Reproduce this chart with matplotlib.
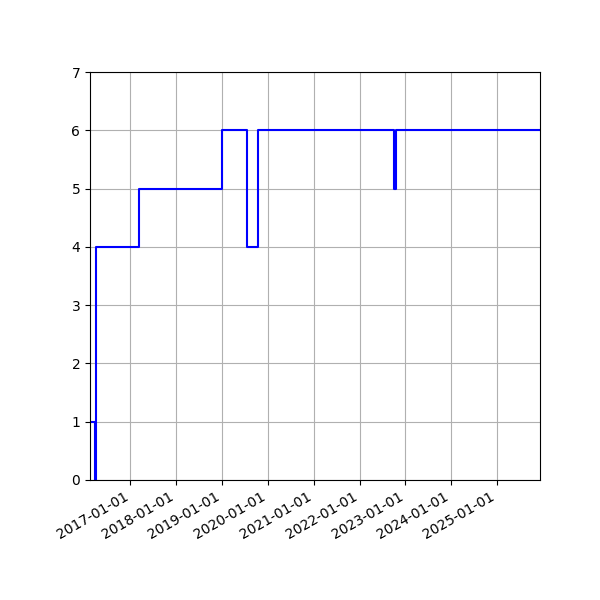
import numpy as np
import pandas as pd
import matplotlib
matplotlib.use('Agg')
import matplotlib.pyplot as plt
import matplotlib.dates as mdates

# step data: date of change and value from then on
dates = ['2016-02-14', '2016-03-21', '2016-04-02', '2017-03-10', '2018-12-30',
         '2019-07-17', '2019-10-14', '2022-10-01', '2022-10-19', '2025-12-09']
values = [1, 0, 4, 5, 6, 4, 6, 5, 6, 6]

x = pd.to_datetime(dates)

fig, ax = plt.subplots(figsize=(6, 6), dpi=100)
ax.step(x, values, where='post', color='blue', linewidth=1.5)

ax.set_ylim(0, 7)
ax.set_xlim(x[0], x[-1])
ax.xaxis.set_major_locator(mdates.YearLocator())
ax.xaxis.set_major_formatter(mdates.DateFormatter('%Y-%m-%d'))
ax.grid(True)
fig.autofmt_xdate()
fig.subplots_adjust(left=0.15, right=0.9, top=0.88, bottom=0.2)

fig.savefig('out.png')
